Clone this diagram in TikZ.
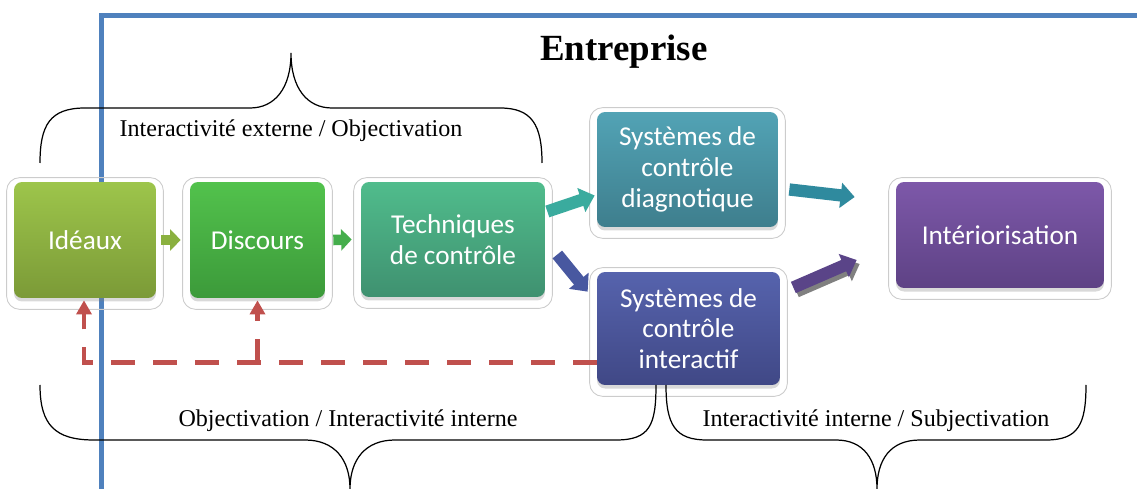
\documentclass[tikz,border=0pt]{standalone}
\usepackage{fontspec}
\setmainfont{Liberation Serif}
\newfontfamily\boxfont{Carlito}
\usetikzlibrary{arrows.meta,shadows}
\definecolor{frameblue}{HTML}{4F81BD}
\definecolor{fbred}{HTML}{C0504D}
\definecolor{olivetop}{HTML}{9DC54B}
\definecolor{olivebot}{HTML}{7B9A37}
\definecolor{greentop}{HTML}{52C24C}
\definecolor{greenbot}{HTML}{3C9A3A}
\definecolor{mintop}{HTML}{50BC8C}
\definecolor{mintbot}{HTML}{3F9170}
\definecolor{tealtop}{HTML}{52A3B5}
\definecolor{tealbot}{HTML}{3E7E8D}
\definecolor{navytop}{HTML}{5663AD}
\definecolor{navybot}{HTML}{404886}
\definecolor{purptop}{HTML}{7D58A9}
\definecolor{purpbot}{HTML}{5E4285}
\definecolor{arrolive}{HTML}{8AB03F}
\definecolor{arrgreen}{HTML}{45AE4C}
\definecolor{arrmint}{HTML}{3AAB9E}
\definecolor{arrnavy}{HTML}{4858A0}
\definecolor{arrteal}{HTML}{2F8A9E}
\definecolor{arrpurple}{HTML}{5A4488}
\begin{document}
\begin{tikzpicture}[x=0.02cm, y=-0.02cm, >=latex,
    stage/.style={rounded corners=0.16cm, text=white, align=center, inner sep=0pt,
      font=\boxfont\fontsize{15.5}{17.5}\selectfont,
      drop shadow={shadow xshift=0pt, shadow yshift=-2pt, opacity=0.3}},
    halo/.style={draw=black!20, line width=0.5pt, rounded corners=0.26cm},
    flowarrow/.style={line width=6pt, -{Triangle[width=12pt,length=6pt]}},
    bigarrow/.style={line width=7pt, -{Triangle[width=14pt,length=8pt]}},
    feedback/.style={draw=fbred, line width=2.8pt, dash pattern=on 0.48cm off 0.36cm,
      -{Triangle[width=8.5pt,length=8pt]}},
    brace/.style={line width=0.7pt},
    bracetext/.style={font=\fontsize{13.7}{16}\selectfont}]
  \useasboundingbox (0,0) rectangle (1137,489);
  \draw[frameblue, line width=0.1cm] (101,489) -- (101,16) -- (1137,16);
  \node[font=\bfseries\fontsize{21}{24}\selectfont] (titre) at (624,52) {Entreprise};

  \draw[brace] (40,163) .. controls (40,125) and (50,108) .. (85,108) -- (250,108)
    .. controls (275,108) and (291,88) .. (291,53)
    .. controls (291,88) and (307,108) .. (332,108) -- (500,108)
    .. controls (532,108) and (542,125) .. (542,163);
  \node[bracetext] (externe) at (291,131) {Interactivité externe / Objectivation};

  \node[stage, minimum width=2.84cm, minimum height=2.32cm, top color=olivetop, bottom color=olivebot] (ideaux) at (85,240) {Idéaux};
  \node[stage, minimum width=2.7cm, minimum height=2.32cm, top color=greentop, bottom color=greenbot] (discours) at (257.5,240) {Discours};
  \node[stage, minimum width=3.68cm, minimum height=2.3cm, top color=mintop, bottom color=mintbot] (techniques) at (453,239.5) {Techniques\\de contrôle};
  \node[stage, minimum width=3.62cm, minimum height=2.3cm, top color=tealtop, bottom color=tealbot] (diagnostic) at (687.5,169.5) {Systèmes de\\contrôle\\diagnotique};
  \node[stage, minimum width=3.66cm, minimum height=2.26cm, top color=navytop, bottom color=navybot] (interactif) at (688.5,328.5) {Systèmes de\\contrôle\\interactif};
  \node[stage, minimum width=4.16cm, minimum height=2.12cm, top color=purptop, bottom color=purpbot] (interior) at (1000,235) {Intériorisation};

  \foreach \n in {ideaux,discours,techniques,diagnostic,interactif,interior}
    \draw[halo] ([shift={(-7,-4)}]\n.north west) rectangle ([shift={(7,11)}]\n.south east);

  \draw[flowarrow, draw=arrolive] ([shift={(5,0)}]ideaux.east) -- ([shift={(-9,0)}]discours.west);
  \draw[flowarrow, draw=arrgreen] ([shift={(8,0)}]discours.east) -- ([shift={(-9,0)}]techniques.west);
  \draw[bigarrow, draw=arrmint] ([shift={(2,-28)}]techniques.east) -- ([shift={(-2,26)}]diagnostic.west);
  \draw[bigarrow, draw=arrnavy] ([shift={(12,15)}]techniques.east) -- ([shift={(-9,20)}]interactif.north west);
  \draw[bigarrow, draw=arrteal] ([shift={(11,20)}]diagnostic.east) -- ([shift={(-41,-38)}]interior.west);
  \draw[bigarrow, draw=gray] ([shift={(16,-37)}]interactif.east) -- ([shift={(-36,29)}]interior.west);
  \draw[bigarrow, draw=arrpurple] ([shift={(13,-41)}]interactif.east) -- ([shift={(-39,25)}]interior.west);

  \coordinate (retour) at ([shift={(0,34)}]interactif.west);
  \draw[feedback] (retour) -| ([shift={(-1,2)}]ideaux.south);
  \draw[feedback] (discours.south |- retour) -- ([shift={(0,2)}]discours.south);

  \draw[brace] (40,385) .. controls (40,425) and (55,440) .. (94,440) -- (305,440)
    .. controls (335,440) and (350,460) .. (350,489)
    .. controls (350,460) and (365,440) .. (395,440) -- (616,440)
    .. controls (650,440) and (656,425) .. (656,385);
  \draw[brace] (666,385) .. controls (666,425) and (675,440) .. (707,440) -- (836,440)
    .. controls (864,440) and (877,460) .. (877,489)
    .. controls (877,460) and (890,440) .. (920,440) -- (1046,440)
    .. controls (1078,440) and (1086,425) .. (1086,385);
  \node[bracetext] (interne) at (348,421) {Objectivation / Interactivité interne};
  \node[bracetext] (subjectif) at (876,421) {Interactivité interne / Subjectivation};
\end{tikzpicture}
\end{document}
